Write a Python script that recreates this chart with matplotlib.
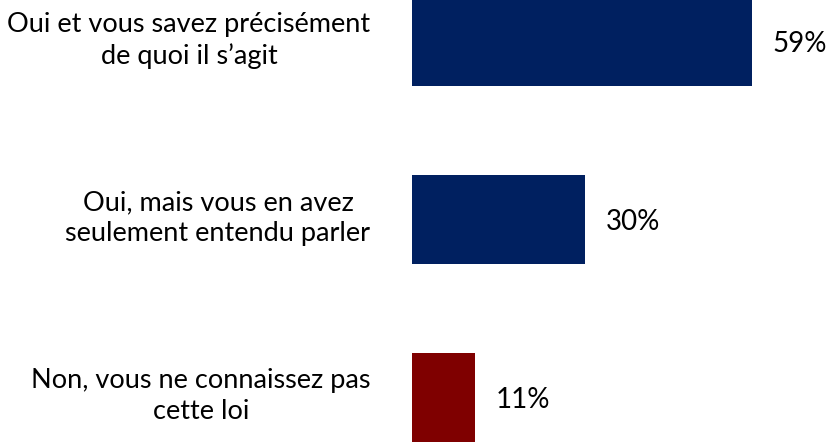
import matplotlib.pyplot as plt

categories = ["Oui et vous savez précisément\nde quoi il s\u2019agit",
              "Oui, mais vous en avez\nseulement entendu parler",
              "Non, vous ne connaissez pas\ncette loi"]
values = [59, 30, 11]
colors = ['#002060', '#002060', '#7F0000']

plt.rcParams['font.family'] = ['Lato', 'DejaVu Sans']

fig = plt.figure(figsize=(8.34, 4.43), dpi=100)
ax = fig.add_axes([412 / 834, 0, 418 / 834, 1])

ypos = list(range(len(values)))
ax.barh(ypos, values, height=0.5, color=colors)
ax.set_xlim(0, 72.5)
ax.set_ylim(2.253, -0.236)

for y, v in zip(ypos, values):
    ax.text(v + 3.6, y + 0.01, f"{v}%", va='center', ha='left', fontsize=20, color='black')

for y, lab in zip(ypos, categories):
    ax.text(-7.2, y - 0.01, lab, va='center', ha='right', multialignment='center',
            fontsize=19.5, color='black', linespacing=1.3)

ax.axis('off')
fig.savefig('out.png', dpi=100)
